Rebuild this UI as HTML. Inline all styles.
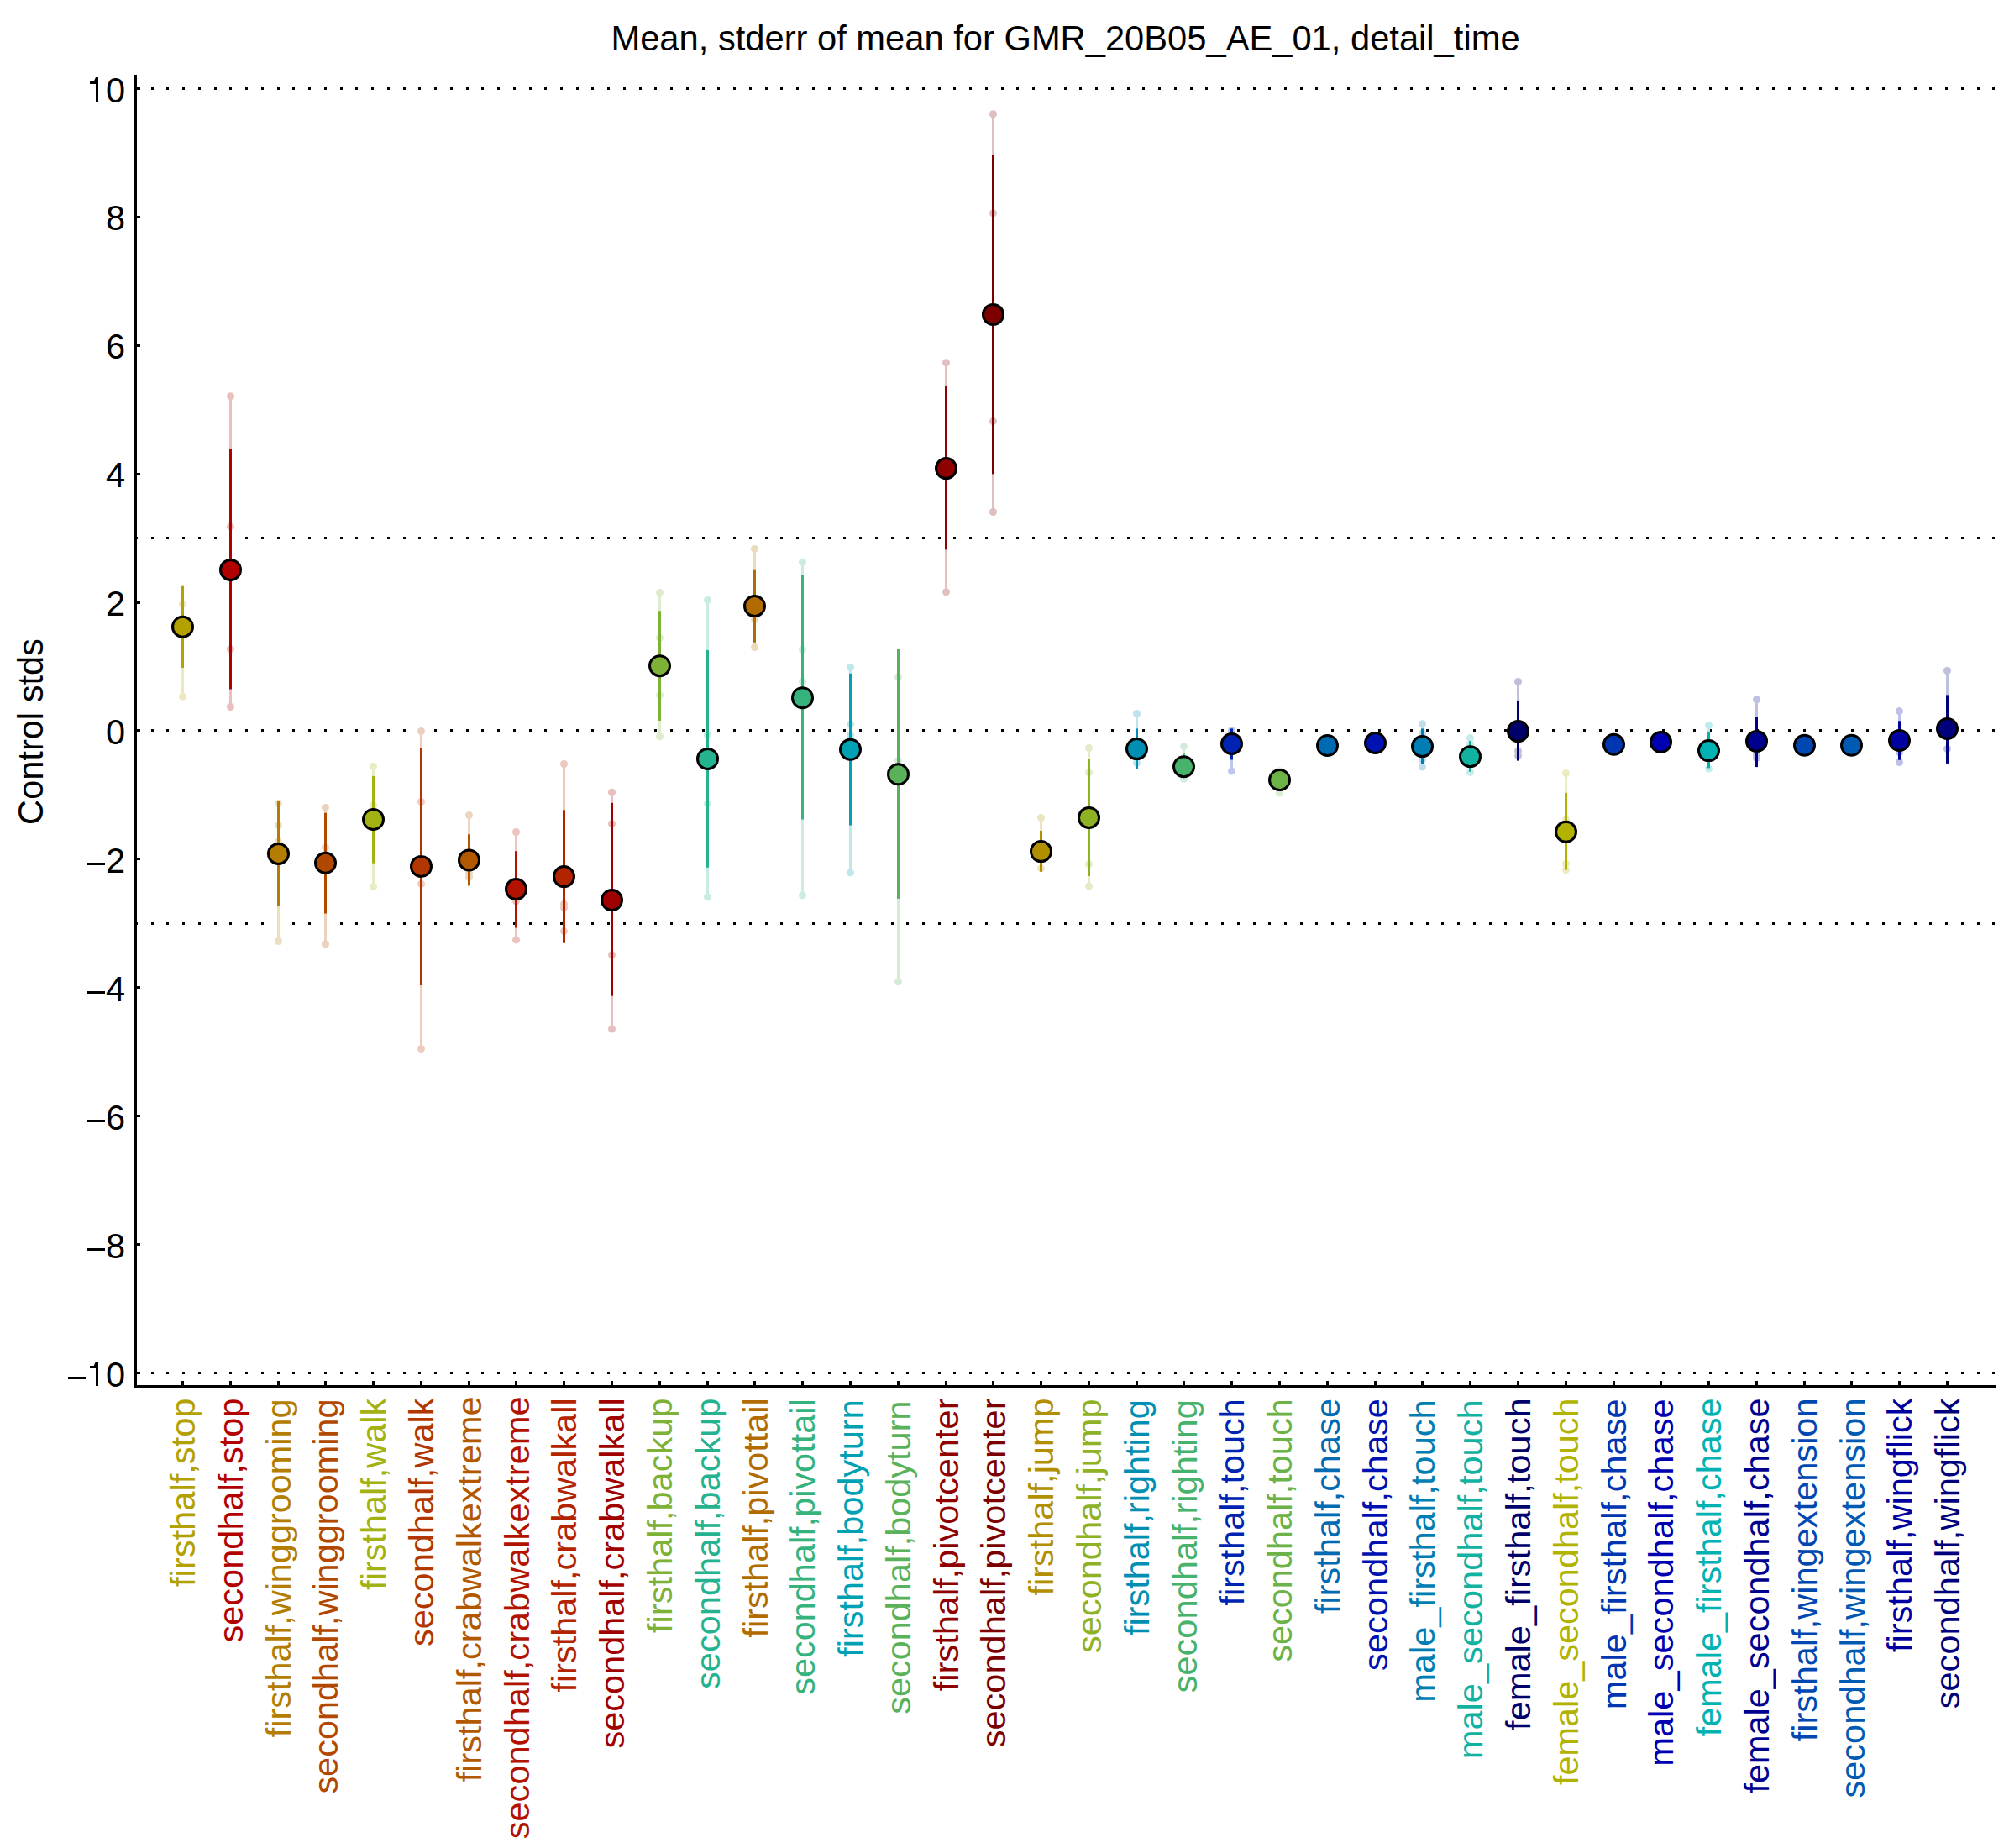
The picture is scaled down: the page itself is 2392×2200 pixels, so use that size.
<!DOCTYPE html>
<html><head><meta charset="utf-8"><style>
html,body{margin:0;padding:0;background:#fff;width:2392px;height:2200px;overflow:hidden;position:relative}
.t{font-family:"Liberation Sans",sans-serif;font-size:43px;fill:#000}
</style></head><body>
<svg width="2392" height="2200" viewBox="0 0 2392 2200" style="position:absolute;left:0;top:0">
<rect width="100%" height="100%" fill="#fff"/>
<path d="M161 104h3v3h-3zM180 104h3v3h-3zM198 104h3v3h-3zM217 104h3v3h-3zM236 104h3v3h-3zM255 104h3v3h-3zM273 104h3v3h-3zM292 104h3v3h-3zM311 104h3v3h-3zM330 104h3v3h-3zM348 104h3v3h-3zM367 104h3v3h-3zM386 104h3v3h-3zM405 104h3v3h-3zM423 104h3v3h-3zM442 104h3v3h-3zM461 104h3v3h-3zM480 104h3v3h-3zM498 104h3v3h-3zM517 104h3v3h-3zM536 104h3v3h-3zM555 104h3v3h-3zM573 104h3v3h-3zM592 104h3v3h-3zM611 104h3v3h-3zM630 104h3v3h-3zM648 104h3v3h-3zM667 104h3v3h-3zM686 104h3v3h-3zM704 104h3v3h-3zM723 104h3v3h-3zM742 104h3v3h-3zM761 104h3v3h-3zM779 104h3v3h-3zM798 104h3v3h-3zM817 104h3v3h-3zM836 104h3v3h-3zM854 104h3v3h-3zM873 104h3v3h-3zM892 104h3v3h-3zM911 104h3v3h-3zM929 104h3v3h-3zM948 104h3v3h-3zM967 104h3v3h-3zM986 104h3v3h-3zM1004 104h3v3h-3zM1023 104h3v3h-3zM1042 104h3v3h-3zM1061 104h3v3h-3zM1079 104h3v3h-3zM1098 104h3v3h-3zM1117 104h3v3h-3zM1135 104h3v3h-3zM1154 104h3v3h-3zM1173 104h3v3h-3zM1192 104h3v3h-3zM1210 104h3v3h-3zM1229 104h3v3h-3zM1248 104h3v3h-3zM1267 104h3v3h-3zM1285 104h3v3h-3zM1304 104h3v3h-3zM1323 104h3v3h-3zM1342 104h3v3h-3zM1360 104h3v3h-3zM1379 104h3v3h-3zM1398 104h3v3h-3zM1417 104h3v3h-3zM1435 104h3v3h-3zM1454 104h3v3h-3zM1473 104h3v3h-3zM1492 104h3v3h-3zM1510 104h3v3h-3zM1529 104h3v3h-3zM1548 104h3v3h-3zM1566 104h3v3h-3zM1585 104h3v3h-3zM1604 104h3v3h-3zM1623 104h3v3h-3zM1641 104h3v3h-3zM1660 104h3v3h-3zM1679 104h3v3h-3zM1698 104h3v3h-3zM1716 104h3v3h-3zM1735 104h3v3h-3zM1754 104h3v3h-3zM1773 104h3v3h-3zM1791 104h3v3h-3zM1810 104h3v3h-3zM1829 104h3v3h-3zM1848 104h3v3h-3zM1866 104h3v3h-3zM1885 104h3v3h-3zM1904 104h3v3h-3zM1923 104h3v3h-3zM1941 104h3v3h-3zM1960 104h3v3h-3zM1979 104h3v3h-3zM1998 104h3v3h-3zM2016 104h3v3h-3zM2035 104h3v3h-3zM2054 104h3v3h-3zM2072 104h3v3h-3zM2091 104h3v3h-3zM2110 104h3v3h-3zM2129 104h3v3h-3zM2147 104h3v3h-3zM2166 104h3v3h-3zM2185 104h3v3h-3zM2204 104h3v3h-3zM2222 104h3v3h-3zM2241 104h3v3h-3zM2260 104h3v3h-3zM2279 104h3v3h-3zM2297 104h3v3h-3zM2316 104h3v3h-3zM2335 104h3v3h-3zM2354 104h3v3h-3zM2372 104h3v3h-3z" fill="#000"/>
<path d="M161 639h3v3h-3zM180 639h3v3h-3zM198 639h3v3h-3zM217 639h3v3h-3zM236 639h3v3h-3zM255 639h3v3h-3zM273 639h3v3h-3zM292 639h3v3h-3zM311 639h3v3h-3zM330 639h3v3h-3zM348 639h3v3h-3zM367 639h3v3h-3zM386 639h3v3h-3zM405 639h3v3h-3zM423 639h3v3h-3zM442 639h3v3h-3zM461 639h3v3h-3zM480 639h3v3h-3zM498 639h3v3h-3zM517 639h3v3h-3zM536 639h3v3h-3zM555 639h3v3h-3zM573 639h3v3h-3zM592 639h3v3h-3zM611 639h3v3h-3zM630 639h3v3h-3zM648 639h3v3h-3zM667 639h3v3h-3zM686 639h3v3h-3zM704 639h3v3h-3zM723 639h3v3h-3zM742 639h3v3h-3zM761 639h3v3h-3zM779 639h3v3h-3zM798 639h3v3h-3zM817 639h3v3h-3zM836 639h3v3h-3zM854 639h3v3h-3zM873 639h3v3h-3zM892 639h3v3h-3zM911 639h3v3h-3zM929 639h3v3h-3zM948 639h3v3h-3zM967 639h3v3h-3zM986 639h3v3h-3zM1004 639h3v3h-3zM1023 639h3v3h-3zM1042 639h3v3h-3zM1061 639h3v3h-3zM1079 639h3v3h-3zM1098 639h3v3h-3zM1117 639h3v3h-3zM1135 639h3v3h-3zM1154 639h3v3h-3zM1173 639h3v3h-3zM1192 639h3v3h-3zM1210 639h3v3h-3zM1229 639h3v3h-3zM1248 639h3v3h-3zM1267 639h3v3h-3zM1285 639h3v3h-3zM1304 639h3v3h-3zM1323 639h3v3h-3zM1342 639h3v3h-3zM1360 639h3v3h-3zM1379 639h3v3h-3zM1398 639h3v3h-3zM1417 639h3v3h-3zM1435 639h3v3h-3zM1454 639h3v3h-3zM1473 639h3v3h-3zM1492 639h3v3h-3zM1510 639h3v3h-3zM1529 639h3v3h-3zM1548 639h3v3h-3zM1566 639h3v3h-3zM1585 639h3v3h-3zM1604 639h3v3h-3zM1623 639h3v3h-3zM1641 639h3v3h-3zM1660 639h3v3h-3zM1679 639h3v3h-3zM1698 639h3v3h-3zM1716 639h3v3h-3zM1735 639h3v3h-3zM1754 639h3v3h-3zM1773 639h3v3h-3zM1791 639h3v3h-3zM1810 639h3v3h-3zM1829 639h3v3h-3zM1848 639h3v3h-3zM1866 639h3v3h-3zM1885 639h3v3h-3zM1904 639h3v3h-3zM1923 639h3v3h-3zM1941 639h3v3h-3zM1960 639h3v3h-3zM1979 639h3v3h-3zM1998 639h3v3h-3zM2016 639h3v3h-3zM2035 639h3v3h-3zM2054 639h3v3h-3zM2072 639h3v3h-3zM2091 639h3v3h-3zM2110 639h3v3h-3zM2129 639h3v3h-3zM2147 639h3v3h-3zM2166 639h3v3h-3zM2185 639h3v3h-3zM2204 639h3v3h-3zM2222 639h3v3h-3zM2241 639h3v3h-3zM2260 639h3v3h-3zM2279 639h3v3h-3zM2297 639h3v3h-3zM2316 639h3v3h-3zM2335 639h3v3h-3zM2354 639h3v3h-3zM2372 639h3v3h-3z" fill="#000"/>
<path d="M161 868h3v3h-3zM180 868h3v3h-3zM198 868h3v3h-3zM217 868h3v3h-3zM236 868h3v3h-3zM255 868h3v3h-3zM273 868h3v3h-3zM292 868h3v3h-3zM311 868h3v3h-3zM330 868h3v3h-3zM348 868h3v3h-3zM367 868h3v3h-3zM386 868h3v3h-3zM405 868h3v3h-3zM423 868h3v3h-3zM442 868h3v3h-3zM461 868h3v3h-3zM480 868h3v3h-3zM498 868h3v3h-3zM517 868h3v3h-3zM536 868h3v3h-3zM555 868h3v3h-3zM573 868h3v3h-3zM592 868h3v3h-3zM611 868h3v3h-3zM630 868h3v3h-3zM648 868h3v3h-3zM667 868h3v3h-3zM686 868h3v3h-3zM704 868h3v3h-3zM723 868h3v3h-3zM742 868h3v3h-3zM761 868h3v3h-3zM779 868h3v3h-3zM798 868h3v3h-3zM817 868h3v3h-3zM836 868h3v3h-3zM854 868h3v3h-3zM873 868h3v3h-3zM892 868h3v3h-3zM911 868h3v3h-3zM929 868h3v3h-3zM948 868h3v3h-3zM967 868h3v3h-3zM986 868h3v3h-3zM1004 868h3v3h-3zM1023 868h3v3h-3zM1042 868h3v3h-3zM1061 868h3v3h-3zM1079 868h3v3h-3zM1098 868h3v3h-3zM1117 868h3v3h-3zM1135 868h3v3h-3zM1154 868h3v3h-3zM1173 868h3v3h-3zM1192 868h3v3h-3zM1210 868h3v3h-3zM1229 868h3v3h-3zM1248 868h3v3h-3zM1267 868h3v3h-3zM1285 868h3v3h-3zM1304 868h3v3h-3zM1323 868h3v3h-3zM1342 868h3v3h-3zM1360 868h3v3h-3zM1379 868h3v3h-3zM1398 868h3v3h-3zM1417 868h3v3h-3zM1435 868h3v3h-3zM1454 868h3v3h-3zM1473 868h3v3h-3zM1492 868h3v3h-3zM1510 868h3v3h-3zM1529 868h3v3h-3zM1548 868h3v3h-3zM1566 868h3v3h-3zM1585 868h3v3h-3zM1604 868h3v3h-3zM1623 868h3v3h-3zM1641 868h3v3h-3zM1660 868h3v3h-3zM1679 868h3v3h-3zM1698 868h3v3h-3zM1716 868h3v3h-3zM1735 868h3v3h-3zM1754 868h3v3h-3zM1773 868h3v3h-3zM1791 868h3v3h-3zM1810 868h3v3h-3zM1829 868h3v3h-3zM1848 868h3v3h-3zM1866 868h3v3h-3zM1885 868h3v3h-3zM1904 868h3v3h-3zM1923 868h3v3h-3zM1941 868h3v3h-3zM1960 868h3v3h-3zM1979 868h3v3h-3zM1998 868h3v3h-3zM2016 868h3v3h-3zM2035 868h3v3h-3zM2054 868h3v3h-3zM2072 868h3v3h-3zM2091 868h3v3h-3zM2110 868h3v3h-3zM2129 868h3v3h-3zM2147 868h3v3h-3zM2166 868h3v3h-3zM2185 868h3v3h-3zM2204 868h3v3h-3zM2222 868h3v3h-3zM2241 868h3v3h-3zM2260 868h3v3h-3zM2279 868h3v3h-3zM2297 868h3v3h-3zM2316 868h3v3h-3zM2335 868h3v3h-3zM2354 868h3v3h-3zM2372 868h3v3h-3z" fill="#000"/>
<path d="M161 1098h3v3h-3zM180 1098h3v3h-3zM198 1098h3v3h-3zM217 1098h3v3h-3zM236 1098h3v3h-3zM255 1098h3v3h-3zM273 1098h3v3h-3zM292 1098h3v3h-3zM311 1098h3v3h-3zM330 1098h3v3h-3zM348 1098h3v3h-3zM367 1098h3v3h-3zM386 1098h3v3h-3zM405 1098h3v3h-3zM423 1098h3v3h-3zM442 1098h3v3h-3zM461 1098h3v3h-3zM480 1098h3v3h-3zM498 1098h3v3h-3zM517 1098h3v3h-3zM536 1098h3v3h-3zM555 1098h3v3h-3zM573 1098h3v3h-3zM592 1098h3v3h-3zM611 1098h3v3h-3zM630 1098h3v3h-3zM648 1098h3v3h-3zM667 1098h3v3h-3zM686 1098h3v3h-3zM704 1098h3v3h-3zM723 1098h3v3h-3zM742 1098h3v3h-3zM761 1098h3v3h-3zM779 1098h3v3h-3zM798 1098h3v3h-3zM817 1098h3v3h-3zM836 1098h3v3h-3zM854 1098h3v3h-3zM873 1098h3v3h-3zM892 1098h3v3h-3zM911 1098h3v3h-3zM929 1098h3v3h-3zM948 1098h3v3h-3zM967 1098h3v3h-3zM986 1098h3v3h-3zM1004 1098h3v3h-3zM1023 1098h3v3h-3zM1042 1098h3v3h-3zM1061 1098h3v3h-3zM1079 1098h3v3h-3zM1098 1098h3v3h-3zM1117 1098h3v3h-3zM1135 1098h3v3h-3zM1154 1098h3v3h-3zM1173 1098h3v3h-3zM1192 1098h3v3h-3zM1210 1098h3v3h-3zM1229 1098h3v3h-3zM1248 1098h3v3h-3zM1267 1098h3v3h-3zM1285 1098h3v3h-3zM1304 1098h3v3h-3zM1323 1098h3v3h-3zM1342 1098h3v3h-3zM1360 1098h3v3h-3zM1379 1098h3v3h-3zM1398 1098h3v3h-3zM1417 1098h3v3h-3zM1435 1098h3v3h-3zM1454 1098h3v3h-3zM1473 1098h3v3h-3zM1492 1098h3v3h-3zM1510 1098h3v3h-3zM1529 1098h3v3h-3zM1548 1098h3v3h-3zM1566 1098h3v3h-3zM1585 1098h3v3h-3zM1604 1098h3v3h-3zM1623 1098h3v3h-3zM1641 1098h3v3h-3zM1660 1098h3v3h-3zM1679 1098h3v3h-3zM1698 1098h3v3h-3zM1716 1098h3v3h-3zM1735 1098h3v3h-3zM1754 1098h3v3h-3zM1773 1098h3v3h-3zM1791 1098h3v3h-3zM1810 1098h3v3h-3zM1829 1098h3v3h-3zM1848 1098h3v3h-3zM1866 1098h3v3h-3zM1885 1098h3v3h-3zM1904 1098h3v3h-3zM1923 1098h3v3h-3zM1941 1098h3v3h-3zM1960 1098h3v3h-3zM1979 1098h3v3h-3zM1998 1098h3v3h-3zM2016 1098h3v3h-3zM2035 1098h3v3h-3zM2054 1098h3v3h-3zM2072 1098h3v3h-3zM2091 1098h3v3h-3zM2110 1098h3v3h-3zM2129 1098h3v3h-3zM2147 1098h3v3h-3zM2166 1098h3v3h-3zM2185 1098h3v3h-3zM2204 1098h3v3h-3zM2222 1098h3v3h-3zM2241 1098h3v3h-3zM2260 1098h3v3h-3zM2279 1098h3v3h-3zM2297 1098h3v3h-3zM2316 1098h3v3h-3zM2335 1098h3v3h-3zM2354 1098h3v3h-3zM2372 1098h3v3h-3z" fill="#000"/>
<path d="M161 1633h3v3h-3zM180 1633h3v3h-3zM198 1633h3v3h-3zM217 1633h3v3h-3zM236 1633h3v3h-3zM255 1633h3v3h-3zM273 1633h3v3h-3zM292 1633h3v3h-3zM311 1633h3v3h-3zM330 1633h3v3h-3zM348 1633h3v3h-3zM367 1633h3v3h-3zM386 1633h3v3h-3zM405 1633h3v3h-3zM423 1633h3v3h-3zM442 1633h3v3h-3zM461 1633h3v3h-3zM480 1633h3v3h-3zM498 1633h3v3h-3zM517 1633h3v3h-3zM536 1633h3v3h-3zM555 1633h3v3h-3zM573 1633h3v3h-3zM592 1633h3v3h-3zM611 1633h3v3h-3zM630 1633h3v3h-3zM648 1633h3v3h-3zM667 1633h3v3h-3zM686 1633h3v3h-3zM704 1633h3v3h-3zM723 1633h3v3h-3zM742 1633h3v3h-3zM761 1633h3v3h-3zM779 1633h3v3h-3zM798 1633h3v3h-3zM817 1633h3v3h-3zM836 1633h3v3h-3zM854 1633h3v3h-3zM873 1633h3v3h-3zM892 1633h3v3h-3zM911 1633h3v3h-3zM929 1633h3v3h-3zM948 1633h3v3h-3zM967 1633h3v3h-3zM986 1633h3v3h-3zM1004 1633h3v3h-3zM1023 1633h3v3h-3zM1042 1633h3v3h-3zM1061 1633h3v3h-3zM1079 1633h3v3h-3zM1098 1633h3v3h-3zM1117 1633h3v3h-3zM1135 1633h3v3h-3zM1154 1633h3v3h-3zM1173 1633h3v3h-3zM1192 1633h3v3h-3zM1210 1633h3v3h-3zM1229 1633h3v3h-3zM1248 1633h3v3h-3zM1267 1633h3v3h-3zM1285 1633h3v3h-3zM1304 1633h3v3h-3zM1323 1633h3v3h-3zM1342 1633h3v3h-3zM1360 1633h3v3h-3zM1379 1633h3v3h-3zM1398 1633h3v3h-3zM1417 1633h3v3h-3zM1435 1633h3v3h-3zM1454 1633h3v3h-3zM1473 1633h3v3h-3zM1492 1633h3v3h-3zM1510 1633h3v3h-3zM1529 1633h3v3h-3zM1548 1633h3v3h-3zM1566 1633h3v3h-3zM1585 1633h3v3h-3zM1604 1633h3v3h-3zM1623 1633h3v3h-3zM1641 1633h3v3h-3zM1660 1633h3v3h-3zM1679 1633h3v3h-3zM1698 1633h3v3h-3zM1716 1633h3v3h-3zM1735 1633h3v3h-3zM1754 1633h3v3h-3zM1773 1633h3v3h-3zM1791 1633h3v3h-3zM1810 1633h3v3h-3zM1829 1633h3v3h-3zM1848 1633h3v3h-3zM1866 1633h3v3h-3zM1885 1633h3v3h-3zM1904 1633h3v3h-3zM1923 1633h3v3h-3zM1941 1633h3v3h-3zM1960 1633h3v3h-3zM1979 1633h3v3h-3zM1998 1633h3v3h-3zM2016 1633h3v3h-3zM2035 1633h3v3h-3zM2054 1633h3v3h-3zM2072 1633h3v3h-3zM2091 1633h3v3h-3zM2110 1633h3v3h-3zM2129 1633h3v3h-3zM2147 1633h3v3h-3zM2166 1633h3v3h-3zM2185 1633h3v3h-3zM2204 1633h3v3h-3zM2222 1633h3v3h-3zM2241 1633h3v3h-3zM2260 1633h3v3h-3zM2279 1633h3v3h-3zM2297 1633h3v3h-3zM2316 1633h3v3h-3zM2335 1633h3v3h-3zM2354 1633h3v3h-3zM2372 1633h3v3h-3z" fill="#000"/>
<rect x="216.00" y="719.30" width="3.0" height="110.00" fill="#ECE8BF"/><circle cx="217.50" cy="719.30" r="4.5" fill="#ECE8BF"/><circle cx="217.50" cy="829.30" r="4.5" fill="#ECE8BF"/><rect x="216.00" y="697.70" width="3.0" height="97.30" fill="#B2A100"/><circle cx="217.50" cy="746.20" r="12.0" fill="#B2A100" stroke="#000" stroke-width="3.0"/>
<rect x="273.00" y="471.70" width="3.0" height="369.80" fill="#ECBFBF"/><circle cx="274.50" cy="471.70" r="4.5" fill="#ECBFBF"/><circle cx="274.50" cy="626.90" r="4.5" fill="#ECBFBF"/><circle cx="274.50" cy="772.70" r="4.5" fill="#ECBFBF"/><circle cx="274.50" cy="841.50" r="4.5" fill="#ECBFBF"/><rect x="273.00" y="534.80" width="3.0" height="285.70" fill="#B20000"/><circle cx="274.50" cy="678.40" r="12.0" fill="#B20000" stroke="#000" stroke-width="3.0"/>
<rect x="330.00" y="956.40" width="3.0" height="164.10" fill="#ECDEBF"/><circle cx="331.50" cy="956.40" r="4.5" fill="#ECDEBF"/><circle cx="331.50" cy="982.50" r="4.5" fill="#ECDEBF"/><circle cx="331.50" cy="1002.00" r="4.5" fill="#ECDEBF"/><circle cx="331.50" cy="1120.50" r="4.5" fill="#ECDEBF"/><rect x="330.00" y="953.40" width="3.0" height="125.00" fill="#B27D00"/><circle cx="331.50" cy="1016.40" r="12.0" fill="#B27D00" stroke="#000" stroke-width="3.0"/>
<rect x="386.00" y="961.40" width="3.0" height="162.50" fill="#ECD1BF"/><circle cx="387.50" cy="961.40" r="4.5" fill="#ECD1BF"/><circle cx="387.50" cy="1009.00" r="4.5" fill="#ECD1BF"/><circle cx="387.50" cy="1123.90" r="4.5" fill="#ECD1BF"/><rect x="386.00" y="967.70" width="3.0" height="119.80" fill="#B24700"/><circle cx="387.50" cy="1027.30" r="12.0" fill="#B24700" stroke="#000" stroke-width="3.0"/>
<rect x="443.00" y="912.50" width="3.0" height="143.20" fill="#E8ECC4"/><circle cx="444.50" cy="912.50" r="4.5" fill="#E8ECC4"/><circle cx="444.50" cy="958.60" r="4.5" fill="#E8ECC4"/><circle cx="444.50" cy="1055.70" r="4.5" fill="#E8ECC4"/><rect x="443.00" y="923.90" width="3.0" height="103.80" fill="#A1B212"/><circle cx="444.50" cy="975.50" r="12.0" fill="#A1B212" stroke="#000" stroke-width="3.0"/>
<rect x="500.00" y="870.50" width="3.0" height="378.00" fill="#ECCDBF"/><circle cx="501.50" cy="870.50" r="4.5" fill="#ECCDBF"/><circle cx="501.50" cy="954.50" r="4.5" fill="#ECCDBF"/><circle cx="501.50" cy="1052.30" r="4.5" fill="#ECCDBF"/><circle cx="501.50" cy="1248.50" r="4.5" fill="#ECCDBF"/><rect x="500.00" y="890.50" width="3.0" height="282.50" fill="#B23600"/><circle cx="501.50" cy="1031.40" r="12.0" fill="#B23600" stroke="#000" stroke-width="3.0"/>
<rect x="557.00" y="970.50" width="3.0" height="73.80" fill="#ECD6BF"/><circle cx="558.50" cy="970.50" r="4.5" fill="#ECD6BF"/><circle cx="558.50" cy="1039.80" r="4.5" fill="#ECD6BF"/><circle cx="558.50" cy="1044.30" r="4.5" fill="#ECD6BF"/><rect x="557.00" y="993.20" width="3.0" height="61.30" fill="#B25900"/><circle cx="558.50" cy="1023.90" r="12.0" fill="#B25900" stroke="#000" stroke-width="3.0"/>
<rect x="613.00" y="990.50" width="3.0" height="128.40" fill="#ECC4BF"/><circle cx="614.50" cy="990.50" r="4.5" fill="#ECC4BF"/><circle cx="614.50" cy="1072.70" r="4.5" fill="#ECC4BF"/><circle cx="614.50" cy="1118.90" r="4.5" fill="#ECC4BF"/><rect x="613.00" y="1013.20" width="3.0" height="91.30" fill="#B21200"/><circle cx="614.50" cy="1058.60" r="12.0" fill="#B21200" stroke="#000" stroke-width="3.0"/>
<rect x="670.00" y="909.50" width="3.0" height="199.10" fill="#ECC8BF"/><circle cx="671.50" cy="909.50" r="4.5" fill="#ECC8BF"/><circle cx="671.50" cy="1076.10" r="4.5" fill="#ECC8BF"/><circle cx="671.50" cy="1080.70" r="4.5" fill="#ECC8BF"/><circle cx="671.50" cy="1108.60" r="4.5" fill="#ECC8BF"/><rect x="670.00" y="964.30" width="3.0" height="158.40" fill="#B22400"/><circle cx="671.50" cy="1043.60" r="12.0" fill="#B22400" stroke="#000" stroke-width="3.0"/>
<rect x="727.00" y="943.20" width="3.0" height="281.80" fill="#E8BFBF"/><circle cx="728.50" cy="943.20" r="4.5" fill="#E8BFBF"/><circle cx="728.50" cy="980.70" r="4.5" fill="#E8BFBF"/><circle cx="728.50" cy="1136.80" r="4.5" fill="#E8BFBF"/><circle cx="728.50" cy="1225.00" r="4.5" fill="#E8BFBF"/><rect x="727.00" y="955.90" width="3.0" height="229.80" fill="#A10000"/><circle cx="728.50" cy="1071.60" r="12.0" fill="#A10000" stroke="#000" stroke-width="3.0"/>
<rect x="784.00" y="705.20" width="3.0" height="171.60" fill="#DEECCD"/><circle cx="785.50" cy="705.20" r="4.5" fill="#DEECCD"/><circle cx="785.50" cy="759.50" r="4.5" fill="#DEECCD"/><circle cx="785.50" cy="827.70" r="4.5" fill="#DEECCD"/><circle cx="785.50" cy="876.80" r="4.5" fill="#DEECCD"/><rect x="784.00" y="727.30" width="3.0" height="130.70" fill="#7DB236"/><circle cx="785.50" cy="792.70" r="12.0" fill="#7DB236" stroke="#000" stroke-width="3.0"/>
<rect x="841.00" y="714.30" width="3.0" height="353.60" fill="#C8ECE3"/><circle cx="842.50" cy="714.30" r="4.5" fill="#C8ECE3"/><circle cx="842.50" cy="875.00" r="4.5" fill="#C8ECE3"/><circle cx="842.50" cy="956.80" r="4.5" fill="#C8ECE3"/><circle cx="842.50" cy="1067.90" r="4.5" fill="#C8ECE3"/><rect x="841.00" y="773.90" width="3.0" height="258.90" fill="#24B28F"/><circle cx="842.50" cy="903.40" r="12.0" fill="#24B28F" stroke="#000" stroke-width="3.0"/>
<rect x="897.00" y="653.40" width="3.0" height="117.10" fill="#ECDABF"/><circle cx="898.50" cy="653.40" r="4.5" fill="#ECDABF"/><circle cx="898.50" cy="737.50" r="4.5" fill="#ECDABF"/><circle cx="898.50" cy="770.50" r="4.5" fill="#ECDABF"/><rect x="897.00" y="677.70" width="3.0" height="87.10" fill="#B26B00"/><circle cx="898.50" cy="721.60" r="12.0" fill="#B26B00" stroke="#000" stroke-width="3.0"/>
<rect x="954.00" y="669.30" width="3.0" height="396.60" fill="#CDECDE"/><circle cx="955.50" cy="669.30" r="4.5" fill="#CDECDE"/><circle cx="955.50" cy="773.40" r="4.5" fill="#CDECDE"/><circle cx="955.50" cy="811.40" r="4.5" fill="#CDECDE"/><circle cx="955.50" cy="1065.90" r="4.5" fill="#CDECDE"/><rect x="954.00" y="684.00" width="3.0" height="291.50" fill="#36B27D"/><circle cx="955.50" cy="830.70" r="12.0" fill="#36B27D" stroke="#000" stroke-width="3.0"/>
<rect x="1011.00" y="794.50" width="3.0" height="244.40" fill="#BFE8EC"/><circle cx="1012.50" cy="794.50" r="4.5" fill="#BFE8EC"/><circle cx="1012.50" cy="862.30" r="4.5" fill="#BFE8EC"/><circle cx="1012.50" cy="875.20" r="4.5" fill="#BFE8EC"/><circle cx="1012.50" cy="1038.90" r="4.5" fill="#BFE8EC"/><rect x="1011.00" y="801.80" width="3.0" height="180.70" fill="#00A1B2"/><circle cx="1012.50" cy="892.30" r="12.0" fill="#00A1B2" stroke="#000" stroke-width="3.0"/>
<rect x="1068.00" y="806.00" width="3.0" height="362.70" fill="#D6ECD6"/><circle cx="1069.50" cy="806.00" r="4.5" fill="#D6ECD6"/><circle cx="1069.50" cy="905.50" r="4.5" fill="#D6ECD6"/><circle cx="1069.50" cy="1168.70" r="4.5" fill="#D6ECD6"/><rect x="1068.00" y="773.00" width="3.0" height="296.90" fill="#59B259"/><circle cx="1069.50" cy="921.80" r="12.0" fill="#59B259" stroke="#000" stroke-width="3.0"/>
<rect x="1125.00" y="431.70" width="3.0" height="273.00" fill="#E3BFBF"/><circle cx="1126.50" cy="431.70" r="4.5" fill="#E3BFBF"/><circle cx="1126.50" cy="704.70" r="4.5" fill="#E3BFBF"/><rect x="1125.00" y="459.70" width="3.0" height="194.70" fill="#8F0000"/><circle cx="1126.50" cy="557.60" r="12.0" fill="#8F0000" stroke="#000" stroke-width="3.0"/>
<rect x="1181.00" y="135.70" width="3.0" height="473.80" fill="#DEBFBF"/><circle cx="1182.50" cy="135.70" r="4.5" fill="#DEBFBF"/><circle cx="1182.50" cy="253.80" r="4.5" fill="#DEBFBF"/><circle cx="1182.50" cy="501.60" r="4.5" fill="#DEBFBF"/><circle cx="1182.50" cy="609.50" r="4.5" fill="#DEBFBF"/><rect x="1181.00" y="184.90" width="3.0" height="379.50" fill="#7D0000"/><circle cx="1182.50" cy="374.40" r="12.0" fill="#7D0000" stroke="#000" stroke-width="3.0"/>
<rect x="1238.00" y="973.60" width="3.0" height="60.30" fill="#ECE3BF"/><circle cx="1239.50" cy="973.60" r="4.5" fill="#ECE3BF"/><circle cx="1239.50" cy="1033.90" r="4.5" fill="#ECE3BF"/><rect x="1238.00" y="989.00" width="3.0" height="48.80" fill="#B28F00"/><circle cx="1239.50" cy="1013.60" r="12.0" fill="#B28F00" stroke="#000" stroke-width="3.0"/>
<rect x="1295.00" y="890.50" width="3.0" height="164.40" fill="#E3ECC8"/><circle cx="1296.50" cy="890.50" r="4.5" fill="#E3ECC8"/><circle cx="1296.50" cy="919.70" r="4.5" fill="#E3ECC8"/><circle cx="1296.50" cy="1028.80" r="4.5" fill="#E3ECC8"/><circle cx="1296.50" cy="1054.90" r="4.5" fill="#E3ECC8"/><rect x="1295.00" y="903.00" width="3.0" height="140.00" fill="#8FB224"/><circle cx="1296.50" cy="973.40" r="12.0" fill="#8FB224" stroke="#000" stroke-width="3.0"/>
<rect x="1352.00" y="849.50" width="3.0" height="58.90" fill="#BFE3EC"/><circle cx="1353.50" cy="849.50" r="4.5" fill="#BFE3EC"/><circle cx="1353.50" cy="908.40" r="4.5" fill="#BFE3EC"/><rect x="1352.00" y="867.40" width="3.0" height="48.10" fill="#008FB2"/><circle cx="1353.50" cy="891.60" r="12.0" fill="#008FB2" stroke="#000" stroke-width="3.0"/>
<rect x="1408.00" y="888.60" width="3.0" height="38.60" fill="#D1ECDA"/><circle cx="1409.50" cy="888.60" r="4.5" fill="#D1ECDA"/><circle cx="1409.50" cy="927.20" r="4.5" fill="#D1ECDA"/><rect x="1408.00" y="897.40" width="3.0" height="28.50" fill="#47B26B"/><circle cx="1409.50" cy="912.70" r="12.0" fill="#47B26B" stroke="#000" stroke-width="3.0"/>
<rect x="1465.00" y="869.60" width="3.0" height="48.30" fill="#BFC8EC"/><circle cx="1466.50" cy="869.60" r="4.5" fill="#BFC8EC"/><circle cx="1466.50" cy="917.90" r="4.5" fill="#BFC8EC"/><rect x="1465.00" y="867.40" width="3.0" height="37.10" fill="#0024B2"/><circle cx="1466.50" cy="885.50" r="12.0" fill="#0024B2" stroke="#000" stroke-width="3.0"/>
<rect x="1522.00" y="917.80" width="3.0" height="26.20" fill="#DAECD1"/><circle cx="1523.50" cy="917.80" r="4.5" fill="#DAECD1"/><circle cx="1523.50" cy="944.00" r="4.5" fill="#DAECD1"/><rect x="1522.00" y="925.00" width="3.0" height="7.00" fill="#6BB247"/><circle cx="1523.50" cy="928.50" r="12.0" fill="#6BB247" stroke="#000" stroke-width="3.0"/>
<rect x="1579.00" y="886.00" width="3.0" height="3.00" fill="#006BB2"/><circle cx="1580.50" cy="887.50" r="12.0" fill="#006BB2" stroke="#000" stroke-width="3.0"/>
<rect x="1636.00" y="883.00" width="3.0" height="3.00" fill="#0012B2"/><circle cx="1637.50" cy="884.50" r="12.0" fill="#0012B2" stroke="#000" stroke-width="3.0"/>
<rect x="1692.00" y="861.80" width="3.0" height="51.20" fill="#BFDEEC"/><circle cx="1693.50" cy="861.80" r="4.5" fill="#BFDEEC"/><circle cx="1693.50" cy="872.80" r="4.5" fill="#BFDEEC"/><circle cx="1693.50" cy="904.50" r="4.5" fill="#BFDEEC"/><circle cx="1693.50" cy="913.00" r="4.5" fill="#BFDEEC"/><rect x="1692.00" y="867.40" width="3.0" height="42.30" fill="#007DB2"/><circle cx="1693.50" cy="888.60" r="12.0" fill="#007DB2" stroke="#000" stroke-width="3.0"/>
<rect x="1749.00" y="878.60" width="3.0" height="40.80" fill="#C4ECE8"/><circle cx="1750.50" cy="878.60" r="4.5" fill="#C4ECE8"/><circle cx="1750.50" cy="885.80" r="4.5" fill="#C4ECE8"/><circle cx="1750.50" cy="919.40" r="4.5" fill="#C4ECE8"/><rect x="1749.00" y="882.10" width="3.0" height="36.70" fill="#12B2A1"/><circle cx="1750.50" cy="900.70" r="12.0" fill="#12B2A1" stroke="#000" stroke-width="3.0"/>
<rect x="1806.00" y="811.40" width="3.0" height="88.40" fill="#BFBFDA"/><circle cx="1807.50" cy="811.40" r="4.5" fill="#BFBFDA"/><circle cx="1807.50" cy="893.90" r="4.5" fill="#BFBFDA"/><circle cx="1807.50" cy="899.80" r="4.5" fill="#BFBFDA"/><rect x="1806.00" y="834.00" width="3.0" height="71.60" fill="#00006B"/><circle cx="1807.50" cy="870.60" r="12.0" fill="#00006B" stroke="#000" stroke-width="3.0"/>
<rect x="1863.00" y="920.50" width="3.0" height="115.10" fill="#ECECBF"/><circle cx="1864.50" cy="920.50" r="4.5" fill="#ECECBF"/><circle cx="1864.50" cy="975.70" r="4.5" fill="#ECECBF"/><circle cx="1864.50" cy="1028.30" r="4.5" fill="#ECECBF"/><circle cx="1864.50" cy="1035.60" r="4.5" fill="#ECECBF"/><rect x="1863.00" y="943.90" width="3.0" height="91.70" fill="#B2B200"/><circle cx="1864.50" cy="990.30" r="12.0" fill="#B2B200" stroke="#000" stroke-width="3.0"/>
<rect x="1920.00" y="885.00" width="3.0" height="2.50" fill="#0036B2"/><circle cx="1921.50" cy="886.30" r="12.0" fill="#0036B2" stroke="#000" stroke-width="3.0"/>
<rect x="1976.00" y="882.00" width="3.0" height="3.00" fill="#0000B2"/><circle cx="1977.50" cy="883.40" r="12.0" fill="#0000B2" stroke="#000" stroke-width="3.0"/>
<rect x="2033.00" y="863.60" width="3.0" height="51.50" fill="#BFECEC"/><circle cx="2034.50" cy="863.60" r="4.5" fill="#BFECEC"/><circle cx="2034.50" cy="915.10" r="4.5" fill="#BFECEC"/><rect x="2033.00" y="870.90" width="3.0" height="43.50" fill="#00B2B2"/><circle cx="2034.50" cy="893.60" r="12.0" fill="#00B2B2" stroke="#000" stroke-width="3.0"/>
<rect x="2090.00" y="832.70" width="3.0" height="69.90" fill="#BFBFE3"/><circle cx="2091.50" cy="832.70" r="4.5" fill="#BFBFE3"/><circle cx="2091.50" cy="898.50" r="4.5" fill="#BFBFE3"/><circle cx="2091.50" cy="902.60" r="4.5" fill="#BFBFE3"/><rect x="2090.00" y="853.20" width="3.0" height="59.90" fill="#00008F"/><circle cx="2091.50" cy="882.40" r="12.0" fill="#00008F" stroke="#000" stroke-width="3.0"/>
<rect x="2147.00" y="886.00" width="3.0" height="2.50" fill="#0047B2"/><circle cx="2148.50" cy="887.30" r="12.0" fill="#0047B2" stroke="#000" stroke-width="3.0"/>
<rect x="2203.00" y="886.00" width="3.0" height="2.50" fill="#0059B2"/><circle cx="2204.50" cy="887.30" r="12.0" fill="#0059B2" stroke="#000" stroke-width="3.0"/>
<rect x="2260.00" y="846.60" width="3.0" height="60.90" fill="#BFBFE8"/><circle cx="2261.50" cy="846.60" r="4.5" fill="#BFBFE8"/><circle cx="2261.50" cy="895.70" r="4.5" fill="#BFBFE8"/><circle cx="2261.50" cy="907.50" r="4.5" fill="#BFBFE8"/><rect x="2260.00" y="858.30" width="3.0" height="46.40" fill="#0000A1"/><circle cx="2261.50" cy="881.50" r="12.0" fill="#0000A1" stroke="#000" stroke-width="3.0"/>
<rect x="2317.00" y="798.50" width="3.0" height="93.00" fill="#BFBFDE"/><circle cx="2318.50" cy="798.50" r="4.5" fill="#BFBFDE"/><circle cx="2318.50" cy="891.50" r="4.5" fill="#BFBFDE"/><rect x="2317.00" y="827.40" width="3.0" height="81.50" fill="#00007D"/><circle cx="2318.50" cy="867.50" r="12.0" fill="#00007D" stroke="#000" stroke-width="3.0"/>
<rect x="160" y="89" width="3" height="1562" fill="#000"/>
<rect x="160" y="1649" width="2216" height="3" fill="#000"/>
<rect x="163" y="1633" width="4" height="3" fill="#000"/>
<rect x="163" y="1480" width="4" height="3" fill="#000"/>
<rect x="163" y="1327" width="4" height="3" fill="#000"/>
<rect x="163" y="1174" width="4" height="3" fill="#000"/>
<rect x="163" y="1021" width="4" height="3" fill="#000"/>
<rect x="163" y="868" width="4" height="3" fill="#000"/>
<rect x="163" y="716" width="4" height="3" fill="#000"/>
<rect x="163" y="563" width="4" height="3" fill="#000"/>
<rect x="163" y="410" width="4" height="3" fill="#000"/>
<rect x="163" y="257" width="4" height="3" fill="#000"/>
<rect x="163" y="104" width="4" height="3" fill="#000"/>
<rect x="216.00" y="1644" width="3" height="5" fill="#000"/>
<rect x="273.00" y="1644" width="3" height="5" fill="#000"/>
<rect x="330.00" y="1644" width="3" height="5" fill="#000"/>
<rect x="386.00" y="1644" width="3" height="5" fill="#000"/>
<rect x="443.00" y="1644" width="3" height="5" fill="#000"/>
<rect x="500.00" y="1644" width="3" height="5" fill="#000"/>
<rect x="557.00" y="1644" width="3" height="5" fill="#000"/>
<rect x="613.00" y="1644" width="3" height="5" fill="#000"/>
<rect x="670.00" y="1644" width="3" height="5" fill="#000"/>
<rect x="727.00" y="1644" width="3" height="5" fill="#000"/>
<rect x="784.00" y="1644" width="3" height="5" fill="#000"/>
<rect x="841.00" y="1644" width="3" height="5" fill="#000"/>
<rect x="897.00" y="1644" width="3" height="5" fill="#000"/>
<rect x="954.00" y="1644" width="3" height="5" fill="#000"/>
<rect x="1011.00" y="1644" width="3" height="5" fill="#000"/>
<rect x="1068.00" y="1644" width="3" height="5" fill="#000"/>
<rect x="1125.00" y="1644" width="3" height="5" fill="#000"/>
<rect x="1181.00" y="1644" width="3" height="5" fill="#000"/>
<rect x="1238.00" y="1644" width="3" height="5" fill="#000"/>
<rect x="1295.00" y="1644" width="3" height="5" fill="#000"/>
<rect x="1352.00" y="1644" width="3" height="5" fill="#000"/>
<rect x="1408.00" y="1644" width="3" height="5" fill="#000"/>
<rect x="1465.00" y="1644" width="3" height="5" fill="#000"/>
<rect x="1522.00" y="1644" width="3" height="5" fill="#000"/>
<rect x="1579.00" y="1644" width="3" height="5" fill="#000"/>
<rect x="1636.00" y="1644" width="3" height="5" fill="#000"/>
<rect x="1692.00" y="1644" width="3" height="5" fill="#000"/>
<rect x="1749.00" y="1644" width="3" height="5" fill="#000"/>
<rect x="1806.00" y="1644" width="3" height="5" fill="#000"/>
<rect x="1863.00" y="1644" width="3" height="5" fill="#000"/>
<rect x="1920.00" y="1644" width="3" height="5" fill="#000"/>
<rect x="1976.00" y="1644" width="3" height="5" fill="#000"/>
<rect x="2033.00" y="1644" width="3" height="5" fill="#000"/>
<rect x="2090.00" y="1644" width="3" height="5" fill="#000"/>
<rect x="2147.00" y="1644" width="3" height="5" fill="#000"/>
<rect x="2203.00" y="1644" width="3" height="5" fill="#000"/>
<rect x="2260.00" y="1644" width="3" height="5" fill="#000"/>
<rect x="2317.00" y="1644" width="3" height="5" fill="#000"/>
<text transform="translate(149 1650.50) scale(0.967 1)" text-anchor="end" class="t">0</text>
<path d="M114 1621 H117 V1650 H114 V1629 H107 V1626 H111.7 Z" fill="#000"/>
<rect x="81" y="1639" width="21" height="3" fill="#000"/>
<text transform="translate(149 1497.60) scale(0.967 1)" text-anchor="end" class="t">8</text>
<rect x="104" y="1486" width="21" height="3" fill="#000"/>
<text transform="translate(149 1344.70) scale(0.967 1)" text-anchor="end" class="t">6</text>
<rect x="104" y="1333" width="21" height="3" fill="#000"/>
<text transform="translate(149 1191.80) scale(0.967 1)" text-anchor="end" class="t">4</text>
<rect x="104" y="1180" width="21" height="3" fill="#000"/>
<text transform="translate(149 1038.90) scale(0.967 1)" text-anchor="end" class="t">2</text>
<rect x="104" y="1027" width="21" height="3" fill="#000"/>
<text transform="translate(149 886.00) scale(0.967 1)" text-anchor="end" class="t">0</text>
<text transform="translate(149 733.10) scale(0.967 1)" text-anchor="end" class="t">2</text>
<text transform="translate(149 580.20) scale(0.967 1)" text-anchor="end" class="t">4</text>
<text transform="translate(149 427.30) scale(0.967 1)" text-anchor="end" class="t">6</text>
<text transform="translate(149 274.40) scale(0.967 1)" text-anchor="end" class="t">8</text>
<text transform="translate(149 121.50) scale(0.967 1)" text-anchor="end" class="t">0</text>
<path d="M114 92 H117 V121 H114 V100 H107 V97 H111.7 Z" fill="#000"/>
<text transform="translate(1268.5 59.5) scale(0.9697 1)" text-anchor="middle" class="t">Mean, stderr of mean for GMR_20B05_AE_01, detail_time</text>
<text transform="translate(51 871) rotate(-90) scale(0.967 1)" text-anchor="middle" class="t">Control stds</text>
<text transform="translate(232.10 1664.50) rotate(-90) scale(0.9687 0.965)" text-anchor="end" class="t" style="fill:#B2A100">firsthalf,stop</text>
<text transform="translate(288.88 1664.50) rotate(-90) scale(0.9670 0.965)" text-anchor="end" class="t" style="fill:#B20000">secondhalf,stop</text>
<text transform="translate(345.67 1665.40) rotate(-90) scale(0.9636 0.965)" text-anchor="end" class="t" style="fill:#B27D00">firsthalf,winggrooming</text>
<text transform="translate(402.45 1665.40) rotate(-90) scale(0.9647 0.965)" text-anchor="end" class="t" style="fill:#B24700">secondhalf,winggrooming</text>
<text transform="translate(459.24 1664.80) rotate(-90) scale(0.9636 0.965)" text-anchor="end" class="t" style="fill:#A1B212">firsthalf,walk</text>
<text transform="translate(516.02 1664.50) rotate(-90) scale(0.9663 0.965)" text-anchor="end" class="t" style="fill:#B23600">secondhalf,walk</text>
<text transform="translate(572.80 1662.40) rotate(-90) scale(0.9651 0.965)" text-anchor="end" class="t" style="fill:#B25900">firsthalf,crabwalkextreme</text>
<text transform="translate(629.59 1662.40) rotate(-90) scale(0.9672 0.965)" text-anchor="end" class="t" style="fill:#B21200">secondhalf,crabwalkextreme</text>
<text transform="translate(686.37 1664.40) rotate(-90) scale(0.9642 0.965)" text-anchor="end" class="t" style="fill:#B22400">firsthalf,crabwalkall</text>
<text transform="translate(743.15 1664.40) rotate(-90) scale(0.9640 0.965)" text-anchor="end" class="t" style="fill:#A10000">secondhalf,crabwalkall</text>
<text transform="translate(799.94 1664.50) rotate(-90) scale(0.9666 0.965)" text-anchor="end" class="t" style="fill:#7DB236">firsthalf,backup</text>
<text transform="translate(856.72 1664.50) rotate(-90) scale(0.9664 0.965)" text-anchor="end" class="t" style="fill:#24B28F">secondhalf,backup</text>
<text transform="translate(913.51 1664.40) rotate(-90) scale(0.9623 0.965)" text-anchor="end" class="t" style="fill:#B26B00">firsthalf,pivottail</text>
<text transform="translate(970.29 1665.40) rotate(-90) scale(0.9637 0.965)" text-anchor="end" class="t" style="fill:#36B27D">secondhalf,pivottail</text>
<text transform="translate(1027.07 1666.30) rotate(-90) scale(0.9645 0.965)" text-anchor="end" class="t" style="fill:#00A1B2">firsthalf,bodyturn</text>
<text transform="translate(1083.86 1667.50) rotate(-90) scale(0.9639 0.965)" text-anchor="end" class="t" style="fill:#59B259">secondhalf,bodyturn</text>
<text transform="translate(1140.64 1664.50) rotate(-90) scale(0.9667 0.965)" text-anchor="end" class="t" style="fill:#8F0000">firsthalf,pivotcenter</text>
<text transform="translate(1197.42 1664.50) rotate(-90) scale(0.9668 0.965)" text-anchor="end" class="t" style="fill:#7D0000">secondhalf,pivotcenter</text>
<text transform="translate(1254.21 1664.50) rotate(-90) scale(0.9645 0.965)" text-anchor="end" class="t" style="fill:#B28F00">firsthalf,jump</text>
<text transform="translate(1310.99 1665.40) rotate(-90) scale(0.9670 0.965)" text-anchor="end" class="t" style="fill:#8FB224">secondhalf,jump</text>
<text transform="translate(1367.78 1666.10) rotate(-90) scale(0.9635 0.965)" text-anchor="end" class="t" style="fill:#008FB2">firsthalf,righting</text>
<text transform="translate(1424.56 1666.10) rotate(-90) scale(0.9679 0.965)" text-anchor="end" class="t" style="fill:#47B26B">secondhalf,righting</text>
<text transform="translate(1481.34 1665.30) rotate(-90) scale(0.9630 0.965)" text-anchor="end" class="t" style="fill:#0024B2">firsthalf,touch</text>
<text transform="translate(1538.13 1665.30) rotate(-90) scale(0.9645 0.965)" text-anchor="end" class="t" style="fill:#6BB247">secondhalf,touch</text>
<text transform="translate(1594.91 1665.00) rotate(-90) scale(0.9651 0.965)" text-anchor="end" class="t" style="fill:#006BB2">firsthalf,chase</text>
<text transform="translate(1651.69 1665.00) rotate(-90) scale(0.9682 0.965)" text-anchor="end" class="t" style="fill:#0012B2">secondhalf,chase</text>
<text transform="translate(1708.48 1666.30) rotate(-90) scale(0.9673 0.965)" text-anchor="end" class="t" style="fill:#007DB2">male_firsthalf,touch</text>
<text transform="translate(1765.26 1666.30) rotate(-90) scale(0.9677 0.965)" text-anchor="end" class="t" style="fill:#12B2A1">male_secondhalf,touch</text>
<text transform="translate(1822.05 1664.40) rotate(-90) scale(0.9678 0.965)" text-anchor="end" class="t" style="fill:#00006B">female_firsthalf,touch</text>
<text transform="translate(1878.83 1664.40) rotate(-90) scale(0.9638 0.965)" text-anchor="end" class="t" style="fill:#B2B200">female_secondhalf,touch</text>
<text transform="translate(1935.61 1665.40) rotate(-90) scale(0.9673 0.965)" text-anchor="end" class="t" style="fill:#0036B2">male_firsthalf,chase</text>
<text transform="translate(1992.40 1665.40) rotate(-90) scale(0.9684 0.965)" text-anchor="end" class="t" style="fill:#0000B2">male_secondhalf,chase</text>
<text transform="translate(2049.18 1664.50) rotate(-90) scale(0.9631 0.965)" text-anchor="end" class="t" style="fill:#00B2B2">female_firsthalf,chase</text>
<text transform="translate(2105.96 1664.50) rotate(-90) scale(0.9641 0.965)" text-anchor="end" class="t" style="fill:#00008F">female_secondhalf,chase</text>
<text transform="translate(2162.75 1664.40) rotate(-90) scale(0.9670 0.965)" text-anchor="end" class="t" style="fill:#0047B2">firsthalf,wingextension</text>
<text transform="translate(2219.53 1664.40) rotate(-90) scale(0.9674 0.965)" text-anchor="end" class="t" style="fill:#0059B2">secondhalf,wingextension</text>
<text transform="translate(2276.32 1664.50) rotate(-90) scale(0.9663 0.965)" text-anchor="end" class="t" style="fill:#0000A1">firsthalf,wingflick</text>
<text transform="translate(2333.10 1664.50) rotate(-90) scale(0.9673 0.965)" text-anchor="end" class="t" style="fill:#00007D">secondhalf,wingflick</text>
</svg>
</body></html>
